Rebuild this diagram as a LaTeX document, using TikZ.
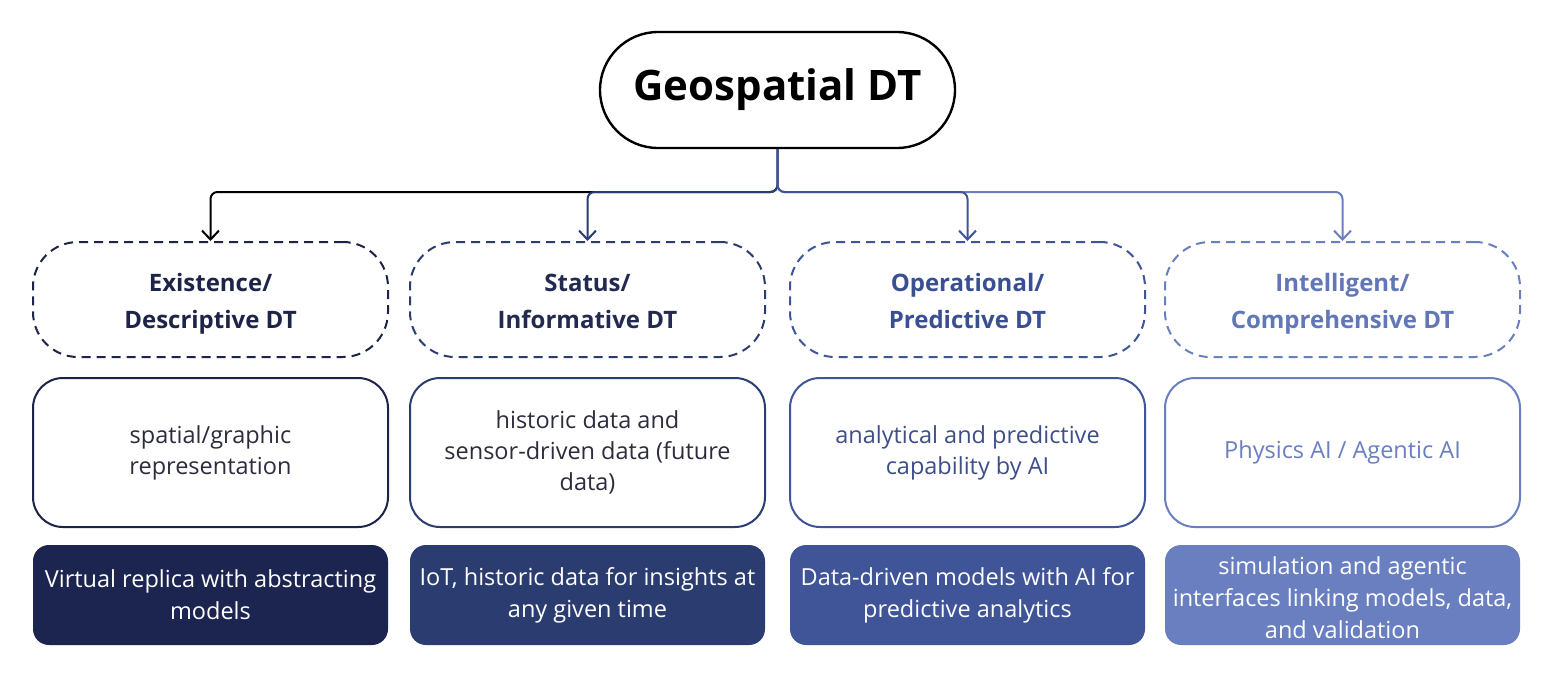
\documentclass[tikz,border=0pt]{standalone}
\usepackage{fontspec}
\setmainfont{Open Sans}
\usetikzlibrary{arrows.meta}
\definecolor{cA}{HTML}{1C2450}
\definecolor{cB}{HTML}{2B3C70}
\definecolor{cC}{HTML}{3F5598}
\definecolor{cD}{HTML}{6A7FC0}
\definecolor{tA}{HTML}{1E2448}
\definecolor{tB}{HTML}{222A50}
\definecolor{tC}{HTML}{3A4F92}
\definecolor{tD}{HTML}{6177B7}
\definecolor{gA}{HTML}{2B2D3C}
\definecolor{gC}{HTML}{3D4E88}
\definecolor{gD}{HTML}{6A7FBF}
\newcommand{\toprule}{\rule{0pt}{27pt}}
\newcommand{\botrule}{\vphantom{p}}
\tikzset{
  topbox/.style={draw=black, line width=2.4pt, rounded corners=58pt, minimum width=355pt, minimum height=116pt, font=\fontsize{42}{50}\selectfont\bfseries, text=black},
  levelbox/.style={draw=#1, dash pattern=on 9pt off 6pt, line width=2pt, rounded corners=45pt, minimum width=355pt, minimum height=115pt, align=center, font=\fontsize{24}{37}\selectfont\bfseries},
  descbox/.style={draw=#1, line width=2pt, rounded corners=30pt, minimum width=355pt, minimum height=149pt, align=center, font=\fontsize{23.5}{31}\selectfont},
  fillbox/.style={fill=#1, draw=none, rounded corners=16pt, minimum width=355pt, minimum height=100pt, align=center, text=white, font=\fontsize{23.5}{32}\selectfont},
  conn/.style={draw=#1, line width=2pt, rounded corners=7pt, -{Straight Barb[length=9pt,width=17pt,line width=2pt]}}
}
\begin{document}
\begin{tikzpicture}[x=1pt,y=-1pt]
\useasboundingbox (0,0) rectangle (1545,673);
\fill[white] (0,0) rectangle (1545,673);

\node[topbox] (top) at (777.5,90) {Geospatial DT};

\node[levelbox=tA, text=tA] (l1) at (210.5,299.5) {\toprule Existence/\\Descriptive DT\botrule};
\node[levelbox=cB, text=tB] (l2) at (587.5,299.5) {\toprule Status/\\Informative DT\botrule};
\node[levelbox=cC, text=tC] (l3) at (967.5,299.5) {\toprule Operational/\\Predictive DT\botrule};
\node[levelbox=cD, text=tD] (l4) at (1342.5,299.5) {\toprule Intelligent/\\Comprehensive DT\botrule};

\node[descbox=tA, text=gA] (d1) at (210.5,452.5) {spatial/graphic\\representation};
\node[descbox=cB, text=gA] (d2) at (587.5,452.5) {historic data and\\sensor-driven data (future\\data)};
\node[descbox=cC, text=gC] (d3) at (967.5,452.5) {analytical and predictive\\capability by AI};
\node[descbox=cD, text=gD] (d4) at (1342.5,452.5) {Physics AI / Agentic AI};

\node[fillbox=cA] (f1) at (210.5,595) {Virtual replica with abstracting\\models};
\node[fillbox=cB] (f2) at (587.5,595) {IoT, historic data for insights at\\any given time};
\node[fillbox=cC] (f3) at (967.5,595) {Data-driven models with AI for\\predictive analytics};
\node[fillbox=cD] (f4) at (1342.5,595) {\rule{0pt}{24pt}simulation and agentic\\interfaces linking models, data,\\and validation};

\coordinate (j) at (777.5,192);
\draw[conn=black] (top.south) -- (j) -- (l1.north |- j) -- (l1.north);
\draw[conn=cB] (top.south) -- (j) -- (l2.north |- j) -- (l2.north);
\draw[conn=cD] (top.south) -- (j) -- (l4.north |- j) -- (l4.north);
\draw[conn=cC] (top.south) -- (j) -- (l3.north |- j) -- (l3.north);
\end{tikzpicture}
\end{document}
